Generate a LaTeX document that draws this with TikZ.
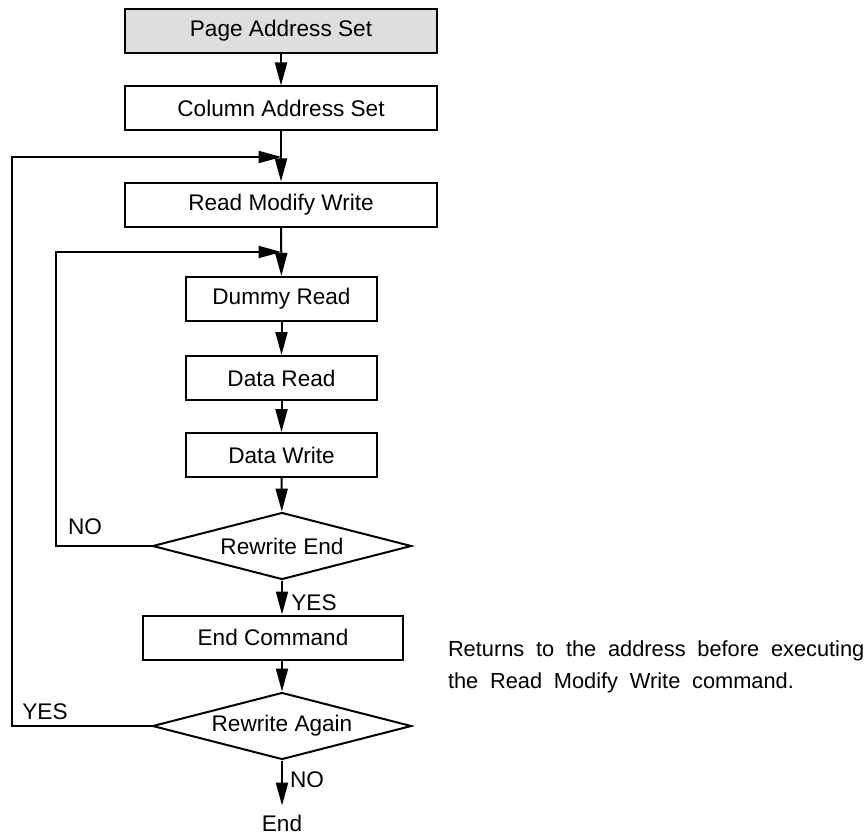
\documentclass[tikz,border=0pt]{standalone}
\usepackage{fontspec}
\setmainfont{Liberation Sans}
\usetikzlibrary{shapes.geometric, arrows.meta, positioning}

\begin{document}
\begin{tikzpicture}[x=0.5pt, y=-0.5pt, line width=1pt,
    font=\fontsize{11.3}{15}\selectfont,
    >={Triangle[length=11.5pt, width=6pt]},
    box/.style={draw, rectangle, inner sep=0pt, minimum height=22pt},
    widebox/.style={box, minimum width=156pt},
    narrowbox/.style={box, minimum width=95.5pt},
    test/.style={draw, diamond, aspect=3.87, inner sep=0pt,
      minimum width=129.5pt, minimum height=33.5pt},
    lbl/.style={inner sep=0pt}]
  \useasboundingbox (0,0) rectangle (865,834);

  % main column of steps
  \node[widebox, fill=black!13] (page) at (281,31) {Page Address Set};
  \node[widebox] (column) at (281,108.5) {Column Address Set};
  \node[widebox] (rmw) at (281,204.5) {Read Modify Write};
  \node[narrowbox] (dummy) at (281.5,299) {Dummy Read};
  \node[narrowbox] (dread) at (281.5,378) {Data Read};
  \node[narrowbox] (dwrite) at (281.5,455) {Data Write};
  \node[test] (rwend) at (282,546) {Rewrite End};
  \node[box, minimum width=130pt] (endcmd) at (273,637.5) {End Command};
  \node[test] (again) at (282,726) {Rewrite Again};
  \node[inner sep=4.5pt, below=22.5pt of again] (end) {End};

  % loop joints
  \coordinate (j1) at (281.5,157);
  \coordinate (j2) at (281.5,252);

  \draw[->] (page) -- (column);
  \draw[->] (column) -- (rmw);
  \draw[->] (rmw) -- (dummy);
  \draw[->] (dummy) -- (dread);
  \draw[->] (dread) -- (dwrite);
  \draw[->] (dwrite) -- (rwend);
  \draw[->] (rwend.south) -- (rwend.south |- endcmd.north);
  \draw[->] (again.north |- endcmd.south) -- (again.north);
  \draw[->] (again.south) -- (end.north);

  % back loops
  \draw[->] (rwend.west) -- ++(-96,0) |- (j2);
  \draw[->] (again.west) -- ++(-140,0) |- (j1);

  % branch labels
  \node[lbl] (no1) at (85,527) {NO};
  \node[lbl] (yes1) at (314,603) {YES};
  \node[lbl] (yes2) at (45,712) {YES};
  \node[lbl] (no2) at (307,780) {NO};

  \node[lbl, anchor=west, align=left,
    font={\fontsize{10.9}{16}\selectfont\spaceskip=0.54em\relax}] (note) at (447,666.5)
    {Returns to the address before executing\\the Read Modify Write command.};
\end{tikzpicture}
\end{document}
